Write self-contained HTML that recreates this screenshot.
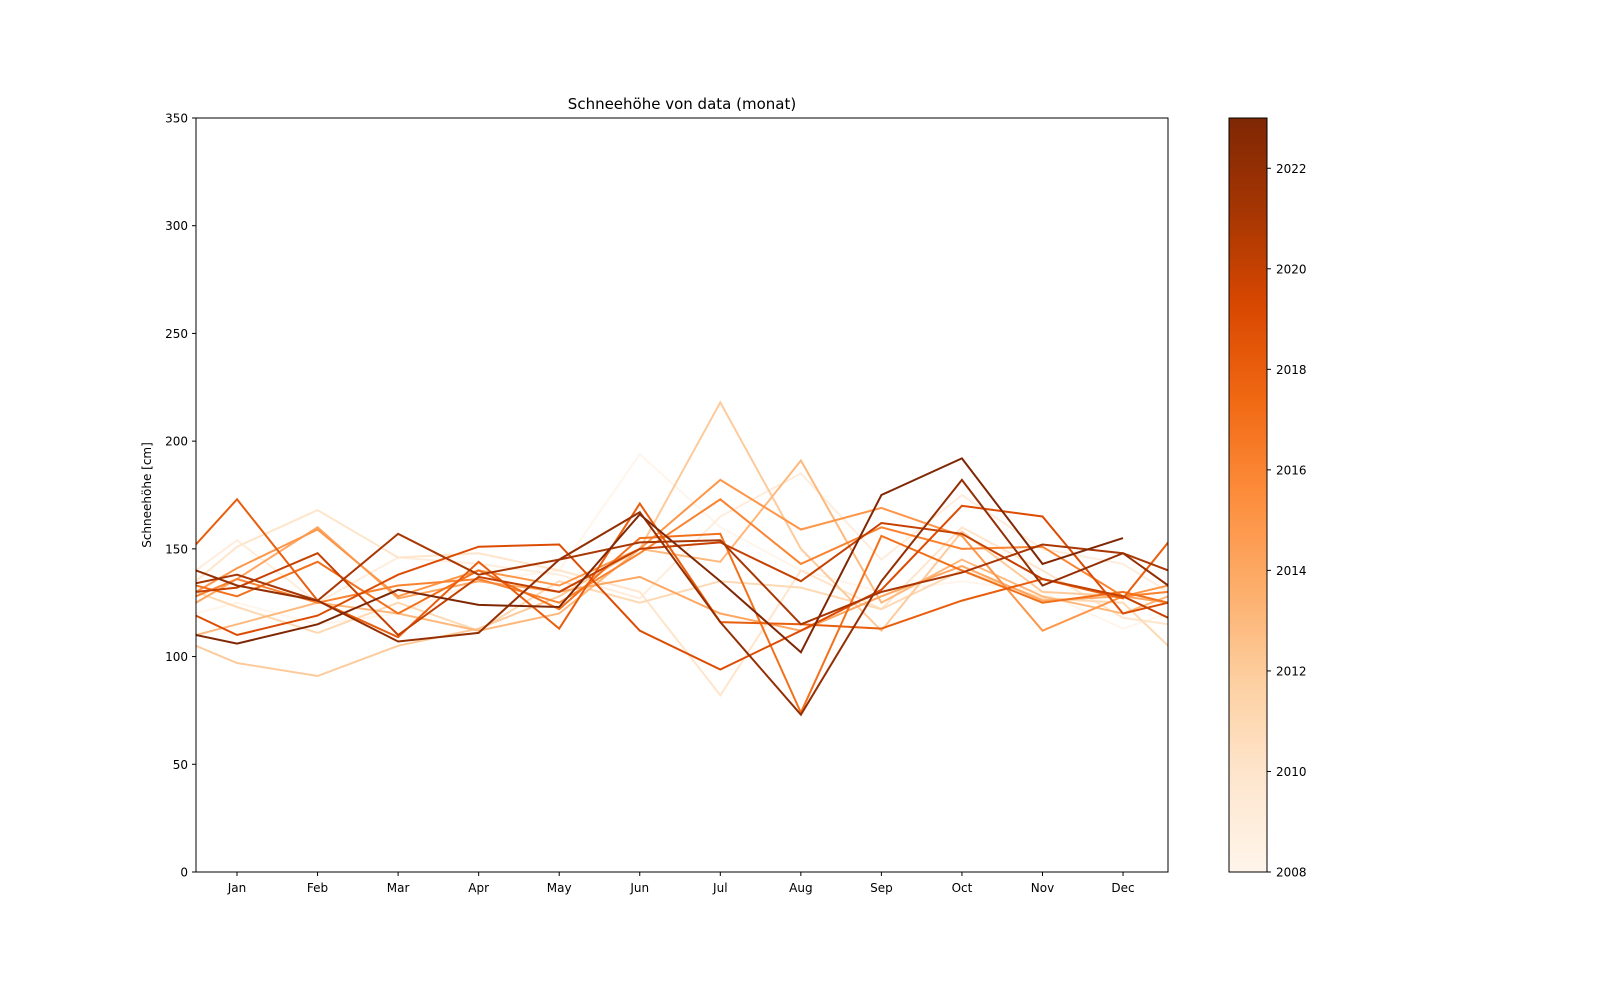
<!DOCTYPE html>
<html><head><meta charset="utf-8">
<style>
body{margin:0;background:#fff;font-family:"Liberation Sans","DejaVu Sans",sans-serif;}
svg text{font-family:"DejaVu Sans","Liberation Sans",sans-serif;}
</style></head>
<body>
<svg id="chart" width="1600" height="1000" viewBox="0 0 1600 1000" xmlns="http://www.w3.org/2000/svg">
<defs>
<clipPath id="plotclip"><rect x="196" y="118" width="972" height="754"/></clipPath>
<linearGradient id="cbgrad" x1="0" y1="1" x2="0" y2="0">
<stop offset="0" stop-color="#fff5eb"/><stop offset="0.125" stop-color="#fee6ce"/><stop offset="0.25" stop-color="#fdd0a2"/><stop offset="0.375" stop-color="#fdae6b"/><stop offset="0.5" stop-color="#fd8d3c"/><stop offset="0.625" stop-color="#f16913"/><stop offset="0.75" stop-color="#d94801"/><stop offset="0.875" stop-color="#a63603"/><stop offset="1" stop-color="#7f2704"/>
</linearGradient>
</defs>
<text x="682" y="109" font-size="15" text-anchor="middle">Schneehöhe von data (monat)</text>
<text x="0" y="0" font-size="12" text-anchor="middle" transform="translate(151,495) rotate(-90)">Schneehöhe [cm]</text>
<g id="lines" clip-path="url(#plotclip)"></g>
<rect x="196" y="118" width="972" height="754" fill="none" stroke="#000" stroke-width="1"/>
<g id="axes"></g>
<rect x="1229" y="118" width="38" height="754" fill="url(#cbgrad)" stroke="#000" stroke-width="1"/>
<g id="cbticks"></g>
</svg>
<script>
const monthLabels = ["Jan","Feb","Mar","Apr","May","Jun","Jul","Aug","Sep","Oct","Nov","Dec"];
const xPositions = [0.49,1,2,3,4,5,6,7,8,9,10,11,12,12.56];
const years = [2008,2009,2010,2011,2012,2013,2014,2015,2016,2017,2018,2019,2020,2021,2022,2023];
const yTicks = [0,50,100,150,200,250,300,350];
const cbTicks = [2008,2010,2012,2014,2016,2018,2020,2022];
const s2008 = [120,125,115,120,135,140,194,160,140,130,135,130,113,120];
const s2009 = [140,154,125,146,143,138,127,165,185,145,175,150,143,130];
const s2010 = [135,151,168,146,148,140,130,82,140,122,160,140,118,115];
const s2011 = [130,123,111,125,112,135,125,135,132,122,140,127,125,105];
const s2012 = [105,97,91,105,113,128,150,218,150,112,158,130,128,130];
const s2013 = [110,115,125,120,112,120,150,144,191,125,145,128,120,128];
const s2014 = [125,136,160,127,135,130,137,120,112,128,142,126,128,125];
const s2015 = [130,141,159,128,140,133,150,182,159,169,156,112,128,133];
const s2016 = [128,136,125,133,136,125,148,173,143,160,150,151,128,130];
const s2017 = [133,128,144,120,140,122,155,157,74,156,140,125,130,125];
const s2018 = [152,173,126,109,144,113,171,116,115,113,126,136,127,153];
const s2019 = [119,110,119,138,151,152,112,94,112,131,170,165,120,125];
const s2020 = [130,132,148,110,137,130,150,153,135,162,157,136,128,118];
const s2021 = [134,138,126,157,138,145,153,154,115,130,139,152,148,140];
const s2022 = [140,133,126,107,111,145,167,116,73,135,182,133,148,133];
const s2023 = [110,106,115,131,124,123,166,135,102,175,192,143,155,null];
const series = [s2008,s2009,s2010,s2011,s2012,s2013,s2014,s2015,s2016,s2017,s2018,s2019,s2020,s2021,s2022,s2023];

const NS="http://www.w3.org/2000/svg";
const X0=196,X1=1168,Y0=872,Y1=118;
function xs(m){return 237+(m-1)*80.55;}
function ys(v){return Y0-(v/350)*(Y0-Y1);}
function cy(yr){return Y0-(yr-2008)/15*(Y0-Y1);}
const stops=["#fff5eb","#fee6ce","#fdd0a2","#fdae6b","#fd8d3c","#f16913","#d94801","#a63603","#7f2704"];
function hex(h){return [1,3,5].map(i=>parseInt(h.substr(i,2),16));}
function cmap(t){const p=t*8,i=Math.min(7,Math.floor(p)),f=p-i;const a=hex(stops[i]),b=hex(stops[i+1]);return "rgb("+a.map((c,k)=>Math.round(c+(b[k]-c)*f)).join(",")+")";}

const lg=document.getElementById("lines");
series.forEach((s,i)=>{
  let d="";
  s.forEach((v,j)=>{if(v===null)return;d+=(d?"L":"M")+xs(xPositions[j]).toFixed(1)+","+ys(v).toFixed(1);});
  const p=document.createElementNS(NS,"path");
  p.setAttribute("d",d);p.setAttribute("fill","none");
  p.setAttribute("stroke",cmap((years[i]-2008)/15));p.setAttribute("stroke-width","2");
  
  
  lg.appendChild(p);
});
const ax=document.getElementById("axes");
function add(tag,attrs,text){const e=document.createElementNS(NS,tag);for(const k in attrs)e.setAttribute(k,attrs[k]);if(text!==undefined)e.textContent=text;ax.appendChild(e);return e;}
yTicks.forEach(v=>{
  const t=add("line",{x1:X0-4,x2:X0,y1:ys(v),y2:ys(v),stroke:"#000"});
  
  
  const l=add("text",{x:X0-8,y:ys(v)+4.5,"font-size":"12","text-anchor":"end"},String(v));
  
  
});
monthLabels.forEach((m,i)=>{
  const x=xs(i+1);
  const t=add("line",{x1:x,x2:x,y1:Y0,y2:Y0+4,stroke:"#000"});
  
  
  const l=add("text",{x:x,y:Y0+20,"font-size":"12","text-anchor":"middle"},m);
  
  
});
const cb=document.getElementById("cbticks");
cbTicks.forEach(yr=>{
  const y=cy(yr);
  const t=document.createElementNS(NS,"line");
  t.setAttribute("x1",1267);t.setAttribute("x2",1271);t.setAttribute("y1",y);t.setAttribute("y2",y);t.setAttribute("stroke","#000");
  
  
  cb.appendChild(t);
  const l=document.createElementNS(NS,"text");
  l.setAttribute("x",1276);l.setAttribute("y",y+4.5);l.setAttribute("font-size","12");l.textContent=String(yr);
  
  
  cb.appendChild(l);
});
</script>
</body></html>
